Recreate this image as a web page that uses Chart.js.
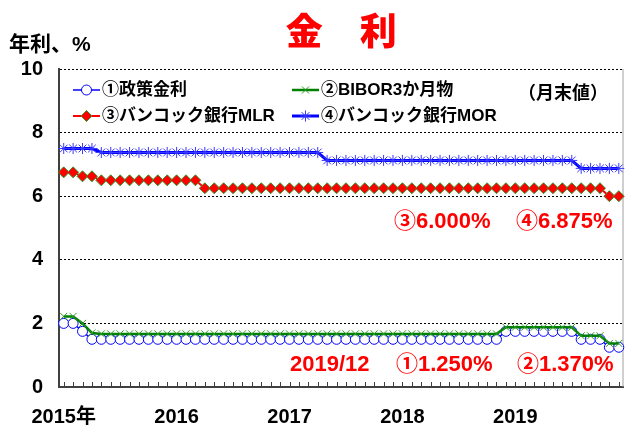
<!DOCTYPE html>
<html lang="ja">

<head>
    <meta charset="UTF-8">
    <title>金利</title>
    <script src="https://cdn.jsdelivr.net/npm/chart.js@4.4.1/dist/chart.umd.min.js"></script>
    <style>
        html, body { margin: 0; padding: 0; background: #fff; }
    </style>
</head>

<body>
    <canvas id="grafico" width="630" height="428"></canvas>

<script>
    // dados (月末値), 2015/1 .. 2019/12
    const anos = [2015, 2016, 2017, 2018, 2019]
    const rotulosAnos = ['2015年', '2016', '2017', '2018', '2019']
    const nomesSeries = ['①政策金利', '②BIBOR3か月物', '③バンコック銀行MLR', '④バンコック銀行MOR']

    // ① 政策金利
    const politica = [
        2.00, 2.00, 1.75, 1.50, 1.50, 1.50, 1.50, 1.50, 1.50, 1.50, 1.50, 1.50,
        1.50, 1.50, 1.50, 1.50, 1.50, 1.50, 1.50, 1.50, 1.50, 1.50, 1.50, 1.50,
        1.50, 1.50, 1.50, 1.50, 1.50, 1.50, 1.50, 1.50, 1.50, 1.50, 1.50, 1.50,
        1.50, 1.50, 1.50, 1.50, 1.50, 1.50, 1.50, 1.50, 1.50, 1.50, 1.50, 1.75,
        1.75, 1.75, 1.75, 1.75, 1.75, 1.75, 1.75, 1.50, 1.50, 1.50, 1.25, 1.25
    ]
    // ② BIBOR3か月物
    const bibor = [
        2.22, 2.22, 2.00, 1.70, 1.67, 1.67, 1.67, 1.67, 1.67, 1.67, 1.67, 1.67,
        1.67, 1.67, 1.67, 1.67, 1.67, 1.67, 1.67, 1.67, 1.67, 1.67, 1.67, 1.67,
        1.67, 1.67, 1.67, 1.67, 1.67, 1.67, 1.67, 1.67, 1.67, 1.67, 1.67, 1.67,
        1.67, 1.67, 1.67, 1.67, 1.67, 1.67, 1.67, 1.67, 1.67, 1.67, 1.67, 1.88,
        1.88, 1.88, 1.88, 1.88, 1.88, 1.88, 1.88, 1.61, 1.61, 1.61, 1.37, 1.37
    ]
    // ③ バンコック銀行MLR
    const mlr = [
        6.75, 6.75, 6.625, 6.625, 6.50, 6.50, 6.50, 6.50, 6.50, 6.50, 6.50, 6.50,
        6.50, 6.50, 6.50, 6.25, 6.25, 6.25, 6.25, 6.25, 6.25, 6.25, 6.25, 6.25,
        6.25, 6.25, 6.25, 6.25, 6.25, 6.25, 6.25, 6.25, 6.25, 6.25, 6.25, 6.25,
        6.25, 6.25, 6.25, 6.25, 6.25, 6.25, 6.25, 6.25, 6.25, 6.25, 6.25, 6.25,
        6.25, 6.25, 6.25, 6.25, 6.25, 6.25, 6.25, 6.25, 6.25, 6.25, 6.00, 6.00
    ]
    // ④ バンコック銀行MOR
    const mor = [
        7.50, 7.50, 7.50, 7.50, 7.375, 7.375, 7.375, 7.375, 7.375, 7.375, 7.375, 7.375,
        7.375, 7.375, 7.375, 7.375, 7.375, 7.375, 7.375, 7.375, 7.375, 7.375, 7.375, 7.375,
        7.375, 7.375, 7.375, 7.375, 7.125, 7.125, 7.125, 7.125, 7.125, 7.125, 7.125, 7.125,
        7.125, 7.125, 7.125, 7.125, 7.125, 7.125, 7.125, 7.125, 7.125, 7.125, 7.125, 7.125,
        7.125, 7.125, 7.125, 7.125, 7.125, 7.125, 7.125, 6.875, 6.875, 6.875, 6.875, 6.875
    ]
    const ticksY = [0, 2, 4, 6, 8, 10]

    const meses = []
    anos.forEach(a => { for (let m = 1; m <= 12; m++) meses.push(a + '/' + m) })

    const fonteLatina = '"Liberation Sans", "Noto Sans CJK JP", sans-serif'

    // textos e legenda desenhados por cima
    const textos = {
        id: 'textos',
        afterDraw(chart) {
            const ctx = chart.ctx
            const area = chart.chartArea
            ctx.save()
            ctx.textBaseline = 'middle'

            // titulo
            ctx.fillStyle = '#ff0000'
            ctx.textAlign = 'center'
            ctx.font = '900 37px "Noto Sans CJK JP", sans-serif'
            ctx.fillText('金　利', (area.left + area.right) / 2, 31)

            ctx.fillStyle = '#000'
            ctx.textAlign = 'left'
            ctx.font = 'bold 21px ' + fonteLatina
            ctx.fillText('年利、%', 9, 45)

            ctx.font = 'bold 18px "Noto Sans CJK JP", sans-serif'
            ctx.fillText('（月末値）', 518, 92)

            // legenda
            const colX = [73, 292]
            const linY = [90, 116]
            chart.data.datasets.forEach((ds, i) => {
                const x0 = colX[i % 2]
                const y0 = linY[Math.floor(i / 2)]
                ctx.strokeStyle = ds.borderColor
                ctx.lineWidth = ds.borderWidth
                ctx.beginPath()
                ctx.moveTo(x0, y0)
                ctx.lineTo(x0 + 27, y0)
                ctx.stroke()
                ctx.fillStyle = ds.pointBackgroundColor
                ctx.strokeStyle = ds.pointBorderColor
                ctx.lineWidth = ds.pointBorderWidth
                Chart.helpers.drawPoint(ctx, {
                    pointStyle: ds.pointStyle, radius: ds.pointRadius,
                    rotation: 0, borderWidth: ds.pointBorderWidth
                }, x0 + 13.5, y0)
                ctx.fillStyle = '#000'
                ctx.font = 'bold 17px ' + fonteLatina
                ctx.fillText(ds.label, x0 + 29, y0)
            })

            // valores finais
            ctx.fillStyle = '#ff0000'
            ctx.font = 'bold 22px ' + fonteLatina
            ctx.fillText('③6.000%', 394, 222)
            ctx.fillText('④6.875%', 516, 222)
            ctx.fillText('2019/12', 290, 365)
            ctx.fillText('①1.250%', 396, 365)
            ctx.fillText('②1.370%', 517, 365)
            ctx.restore()
        }
    }

    // marcas do eixo X (para dentro) e borda direita
    const moldura = {
        id: 'moldura',
        beforeDatasetsDraw(chart) {
            const ctx = chart.ctx
            const area = chart.chartArea
            const x = chart.scales.x
            ctx.save()
            ctx.strokeStyle = '#a0a0a0'
            ctx.lineWidth = 1
            ctx.beginPath()
            ctx.moveTo(area.right - 0.5, area.top)
            ctx.lineTo(area.right - 0.5, area.bottom)
            ctx.stroke()
            ctx.strokeStyle = '#404040'
            ctx.beginPath()
            meses.forEach((m, i) => {
                const px = Math.round(x.getPixelForValue(i)) + 0.5
                ctx.moveTo(px, area.bottom)
                ctx.lineTo(px, area.bottom - 5)
            })
            ctx.stroke()
            ctx.restore()
        }
    }

    new Chart(document.getElementById('grafico'), {
        type: 'line',
        data: {
            labels: meses,
            datasets: [{
                label: nomesSeries[0],
                data: politica,
                order: 1,
                borderColor: '#0000ff',
                borderWidth: 1.5,
                pointStyle: 'circle',
                pointRadius: 5,
                pointBackgroundColor: '#ffffff',
                pointBorderColor: '#0000ff',
                pointBorderWidth: 1
            }, {
                label: nomesSeries[1],
                data: bibor,
                borderColor: '#008000',
                borderWidth: 2.5,
                pointStyle: 'crossRot',
                pointRadius: 5,
                pointBackgroundColor: '#008000',
                pointBorderColor: '#2e9a2e',
                pointBorderWidth: 1
            }, {
                label: nomesSeries[2],
                data: mlr,
                borderColor: '#ff0000',
                borderWidth: 2,
                pointStyle: 'rectRot',
                pointRadius: 5.5,
                pointBackgroundColor: '#ff0000',
                pointBorderColor: '#2e9a2e',
                pointBorderWidth: 1
            }, {
                label: nomesSeries[3],
                data: mor,
                borderColor: '#0000ff',
                borderWidth: 3,
                pointStyle: 'star',
                pointRadius: 5.5,
                pointBackgroundColor: '#3a3aff',
                pointBorderColor: '#3a3aff',
                pointBorderWidth: 1
            }]
        },
        options: {
            responsive: false,
            animation: false,
            layout: { padding: { top: 69, right: 1, left: 0, bottom: 0 } },
            plugins: {
                legend: { display: false },
                title: { display: false },
                tooltip: { enabled: false }
            },
            elements: { line: { tension: 0 } },
            scales: {
                x: {
                    offset: true,
                    afterFit: s => { s.height = 41 },
                    grid: { display: false, offset: false },
                    border: { display: true, color: '#404040', width: 2 },
                    ticks: {
                        autoSkip: false,
                        maxRotation: 0,
                        minRotation: 0,
                        padding: 10,
                        color: '#000',
                        font: { family: fonteLatina, size: 20, weight: 'bold' },
                        callback: (v, i) => (i % 12 === 0 ? rotulosAnos[i / 12] : '')
                    }
                },
                y: {
                    min: 0,
                    max: 10,
                    afterFit: s => { s.width = 59 },
                    afterBuildTicks: s => { s.ticks = ticksY.map(v => ({ value: v })) },
                    grid: { color: '#000', lineWidth: 1, drawTicks: false },
                    border: { display: true, color: '#404040', width: 2, dash: [2, 2] },
                    ticks: {
                        padding: 16,
                        color: '#000',
                        font: { family: fonteLatina, size: 20, weight: 'bold' }
                    }
                }
            }
        },
        plugins: [moldura, textos]
    })
</script>
</body>

</html>
